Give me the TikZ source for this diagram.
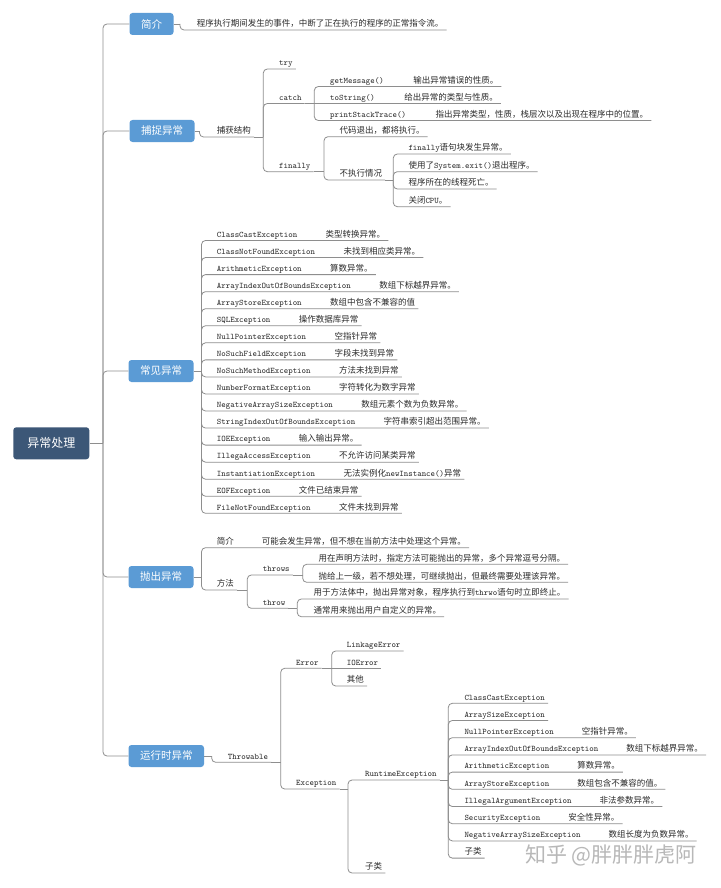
\documentclass[tikz,border=0pt]{standalone}
\usepackage{fontspec}
\setmainfont{Noto Sans CJK SC}
\newcommand\kw[1]{{\ttfamily #1}}
\definecolor{lineC}{HTML}{8E8E8E}
\definecolor{boxC}{HTML}{5B9BD5}
\definecolor{rootC}{HTML}{3C5777}
\definecolor{txtC}{HTML}{2B2B2B}
\begin{document}
\begin{tikzpicture}[x=1pt,y=-1pt,
  conn/.style={draw=lineC, line width=0.8pt, rounded corners=4pt},
  leaf/.style={anchor=south west, inner xsep=3pt, inner ysep=1.2pt, text height=6.5pt, text depth=1.8pt, font=\fontsize{8.5}{10}\selectfont, text=txtC},
  topic/.style={anchor=west, fill=boxC, rounded corners=3pt, text=white, inner xsep=11.5pt, minimum height=22pt, font=\fontsize{10.5}{12}\selectfont},
  rootbox/.style={fill=rootC, rounded corners=3pt, text=white, minimum width=76pt, minimum height=32pt, font=\fontsize{12}{14}\selectfont}
]
\fill[white] (0,0) rectangle (720,888);
\useasboundingbox (0,0) rectangle (720,888);

% root and trunk
\node[rootbox] (root) at (51.3,443.3) {异常处理};
\coordinate (tj) at (103,443.3);
\draw[conn] (root.east) -- (tj);
\node[topic] (b1) at (129.3,24) {简介};
\node[topic] (b2) at (129.3,131) {捕捉异常};
\node[topic] (b3) at (128.3,371) {常见异常};
\node[topic] (b4) at (128.3,577) {抛出异常};
\node[topic] (b5) at (128.3,756) {运行时异常};
\foreach \b in {b1,b2,b3,b4,b5} \draw[conn] (tj) |- (\b.west);

% 简介
\coordinate (j1) at (180,24);
\draw[conn] (b1.east) -- (j1);
\node[leaf] (intro) at (193.7,30) {程序执行期间发生的事件，中断了正在执行的程序的正常指令流。};
\draw[conn] (j1) |- (intro.south west) -- (intro.south east);

% 捕捉异常
\coordinate (j2) at (199.5,131);
\draw[conn] (b2.east) -- (j2);
\node[leaf] (cap) at (213.7,137) {捕获结构};
\draw[conn] (j2) |- (cap.south west) -- (cap.south east);
\coordinate (capj) at (263.3,137);
\draw[conn] (cap.south east) -- (capj);
\node[leaf] (try) at (276,69) {\kw{try}};
\node[leaf] (catch) at (276,103.5) {\kw{catch}};
\node[leaf] (fin) at (276,171.7) {\kw{finally}};
\foreach \c in {try,catch,fin} \draw[conn] (capj) |- (\c.south west) -- (\c.south east);

\coordinate (catj) at (314.3,103.5);
\draw[conn] (catch.south east) -- (catj);
\node[leaf] (gm) at (327,86.5) {\kw{getMessage()}\hspace{29.5pt}输出异常错误的性质。};
\node[leaf] (ts) at (327,103.5) {\kw{toString()}\hspace{29.5pt}给出异常的类型与性质。};
\node[leaf] (pst) at (327,120.5) {\kw{printStackTrace()}\hspace{29.5pt}指出异常类型，性质，栈层次以及出现在程序中的位置。};
\draw[conn] (catj) |- (gm.south west) -- (gm.south east);
\draw[conn] (catj) -- (ts.south west) -- (ts.south east);
\draw[conn] (catj) |- (pst.south west) -- (pst.south east);

\coordinate (finj) at (324,171.7);
\draw[conn] (fin.south east) -- (finj);
\node[leaf] (fa) at (336.3,136.7) {代码退出，都将执行。};
\node[leaf] (fb) at (336.3,180) {不执行情况};
\foreach \c in {fa,fb} \draw[conn] (finj) |- (\c.south west) -- (\c.south east);
\coordinate (fbj) at (393.3,180);
\draw[conn] (fb.south east) -- (fbj);
\node[leaf] (n1) at (405.3,154) {\kw{finally}语句块发生异常。};
\node[leaf] (n2) at (405.3,171.7) {使用了\kw{System.exit()}退出程序。};
\node[leaf] (n3) at (405.3,189) {程序所在的线程死亡。};
\node[leaf] (n4) at (405.3,206.7) {关闭\kw{CPU}。};
\foreach \c in {n1,n2,n3,n4} \draw[conn] (fbj) |- (\c.south west) -- (\c.south east);

% 常见异常
\coordinate (j3) at (201.5,371);
\draw[conn] (b3.east) -- (j3);
\foreach \nm/\ds [count=\i] in {
ClassCastException/类型转换异常。,
ClassNotFoundException/未找到相应类异常。,
ArithmeticException/算数异常。,
ArrayIndexOutOfBoundsException/数组下标越界异常。,
ArrayStoreException/数组中包含不兼容的值,
SQLException/操作数据库异常,
NullPointerException/空指针异常,
NoSuchFieldException/字段未找到异常,
NoSuchMethodException/方法未找到异常,
NumberFormatException/字符转化为数字异常,
NegativeArraySizeException/数组元素个数为负数异常。,
StringIndexOutOfBoundsException/字符串索引超出范围异常。,
IOEException/输入输出异常。,
IllegaAccessException/不允许访问某类异常,
InstantiationException/无法实例化\kw{newInstance()}异常,
EOFException/文件已结束异常,
FileNotFoundException/文件未找到异常}{
  \node[leaf] (ce\i) at (213.7,{240.5+17.05*(\i-1)}) {\kw{\nm}\hspace{28.5pt}\ds};
  \draw[conn] (j3) |- (ce\i.south west) -- (ce\i.south east);
}

% 抛出异常
\coordinate (j4) at (201.5,577);
\draw[conn] (b4.east) -- (j4);
\node[leaf] (tjj) at (213.7,547.7) {简介\hspace{28pt}可能会发生异常，但不想在当前方法中处理这个异常。};
\node[leaf] (ff) at (213.7,590) {方法};
\foreach \c in {tjj,ff} \draw[conn] (j4) |- (\c.south west) -- (\c.south east);
\coordinate (ffj) at (247.3,590);
\draw[conn] (ff.south east) -- (ffj);
\node[leaf] (ths) at (259.7,575) {\kw{throws}};
\node[leaf] (th) at (259.7,608.3) {\kw{throw}};
\foreach \c in {ths,th} \draw[conn] (ffj) |- (\c.south west) -- (\c.south east);
\coordinate (thsj) at (302.7,575);
\draw[conn] (ths.south east) -- (thsj);
\node[leaf] (ths1) at (315.3,564.3) {用在声明方法时，指定方法可能抛出的异常，多个异常逗号分隔。};
\node[leaf] (ths2) at (315.3,582.3) {抛给上一级，若不想处理，可继续抛出，但最终需要处理该异常。};
\foreach \c in {ths1,ths2} \draw[conn] (thsj) |- (\c.south west) -- (\c.south east);
\coordinate (thj) at (297.3,608.3);
\draw[conn] (th.south east) -- (thj);
\node[leaf] (th1) at (310.3,599) {用于方法体中，抛出异常对象，程序执行到\kw{thrwo}语句时立即终止。};
\node[leaf] (th2) at (310.3,616.7) {通常用来抛出用户自定义的异常。};
\foreach \c in {th1,th2} \draw[conn] (thj) |- (\c.south west) -- (\c.south east);

% 运行时异常
\coordinate (j5) at (211.7,756);
\draw[conn] (b5.east) -- (j5);
\node[leaf] (thr) at (224.7,762.3) {\kw{Throwable}};
\draw[conn] (j5) |- (thr.south west) -- (thr.south east);
\coordinate (thrj) at (280.7,762.3);
\draw[conn] (thr.south east) -- (thrj);
\node[leaf] (err) at (293,668.3) {\kw{Error}};
\node[leaf] (exc) at (293,789) {\kw{Exception}};
\foreach \c in {err,exc} \draw[conn] (thrj) |- (\c.south west) -- (\c.south east);
\coordinate (errj) at (331.7,668.3);
\draw[conn] (err.south east) -- (errj);
\node[leaf] (e1) at (343.7,651) {\kw{LinkageError}};
\node[leaf] (e2) at (343.7,668.3) {\kw{IOError}};
\node[leaf] (e3) at (343.7,686) {其他};
\draw[conn] (errj) |- (e1.south west) -- (e1.south east);
\draw[conn] (errj) -- (e2.south west) -- (e2.south east);
\draw[conn] (errj) |- (e3.south west) -- (e3.south east);
\coordinate (excj) at (348,789);
\draw[conn] (exc.south east) -- (excj);
\node[leaf] (rt) at (362,780) {\kw{RuntimeException}};
\node[leaf] (zl) at (362,873) {子类};
\foreach \c in {rt,zl} \draw[conn] (excj) |- (\c.south west) -- (\c.south east);
\coordinate (rtj) at (448.3,780);
\draw[conn] (rt.south east) -- (rtj);
\node[leaf] (rt1) at (461.3,703.3) {\kw{ClassCastException}};
\node[leaf] (rt2) at (461.3,720.5) {\kw{ArraySizeException}};
\foreach \nm/\ds [count=\i from 3] in {
NullPointerException/空指针异常。,
ArrayIndexOutOfBoundsException/数组下标越界异常。,
ArithmeticException/算数异常。,
ArrayStoreException/数组包含不兼容的值。,
IllegalArgumentException/非法参数异常。,
SecurityException/安全性异常。,
NegativeArraySizeException/数组长度为负数异常。}{
  \node[leaf] (rt\i) at (461.3,{703.3+17.2*(\i-1)}) {\kw{\nm}\hspace{28pt}\ds};
}
\node[leaf] (rt10) at (461.3,858.1) {子类};
\foreach \i in {1,...,10} \draw[conn] (rtj) |- (rt\i.south west) -- (rt\i.south east);

% watermark
\node[anchor=west, text=black!28, inner sep=0pt, font=\fontsize{21}{24}\selectfont] (wm) at (525,855) {知乎 @胖胖胖虎阿};
\end{tikzpicture}
\end{document}
